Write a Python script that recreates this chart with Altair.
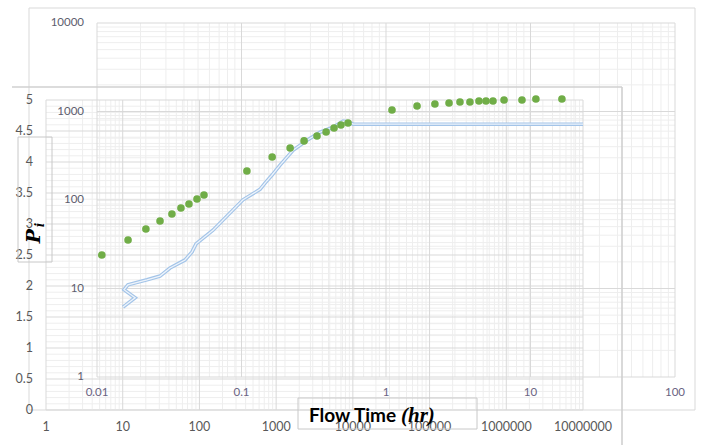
import altair as alt
import pandas as pd

# ---------------- data ----------------
# Back chart (log-log): Flow Time (hr) vs P_i
A_X_TICKS = [0.01, 0.1, 1, 10, 100]
A_X_LABELS = ["0.01", "0.1", "1", "10", "100"]
A_Y_TICKS = [1, 10, 100, 1000, 10000]
A_Y_LABELS = ["1", "10", "100", "1000", "10000"]
MINOR_MULTS = [2, 3, 4, 5, 6, 7, 8, 9]

# Front chart (log x, linear y)
B_X_TICKS = [1, 10, 100, 1000, 10000, 100000, 1000000, 10000000]
B_X_LABELS = ["1", "10", "100", "1000", "10000", "100000", "1000000", "10000000"]
B_Y_TICKS = [0, 0.5, 1, 1.5, 2, 2.5, 3, 3.5, 4, 4.5, 5]
B_Y_LABELS = ["0", "0.5", "1", "1.5", "2", "2.5", "3", "3.5", "4", "4.5", "5"]
B_Y_MINOR = [0.1, 0.2, 0.3, 0.4, 0.6, 0.7, 0.8, 0.9, 1.1, 1.2, 1.3, 1.4, 1.6, 1.7, 1.8, 1.9,
             2.1, 2.2, 2.3, 2.4, 2.6, 2.7, 2.8, 2.9, 3.1, 3.2, 3.3, 3.4, 3.6, 3.7, 3.8, 3.9,
             4.1, 4.2, 4.3, 4.4, 4.6, 4.7, 4.8, 4.9]

# green points (back chart coordinates)
DOT_TIME = [0.0108, 0.0164, 0.0218, 0.0273, 0.033, 0.0381, 0.0433, 0.0492, 0.055,
            0.109, 0.163, 0.217, 0.271, 0.333, 0.385, 0.437, 0.488, 0.546,
            1.10, 1.64, 2.18, 2.73, 3.25, 3.81, 4.40, 4.92, 5.50, 6.56, 8.73, 10.9, 16.5]
DOT_PI = [23.9, 35.3, 47.0, 57.9, 69.5, 81.2, 90.1, 102.6, 113.8,
          212.8, 306, 387, 465, 529, 587, 652, 704, 741,
          1040, 1154, 1216, 1249, 1280, 1280, 1314, 1314, 1314, 1350, 1350, 1384, 1384]

# blue curve (front chart coordinates)
LINE_X = [10.1, 14.5, 10.4, 11.7, 20.7, 30.6, 41.4, 64.9, 80.1, 90.3, 150, 370, 616, 716,
          885, 1125, 1661, 2528, 3736, 5516, 7449, 8650, 10070, 10000000]
LINE_Y = [1.66, 1.81, 1.94, 2.02, 2.10, 2.16, 2.29, 2.42, 2.55, 2.68, 2.90, 3.39, 3.56, 3.66,
          3.79, 3.95, 4.19, 4.35, 4.48, 4.56, 4.66, 4.65, 4.61, 4.61]

# ---------------- scales ----------------
ax = alt.Scale(type="log", domain=[0.01, 100], range=[97, 675], nice=False)
ay = alt.Scale(type="log", domain=[1, 10000], range=[377, 23], nice=False)
bx = alt.Scale(type="log", domain=[1, 10000000], range=[46, 583], nice=False)
by = alt.Scale(type="linear", domain=[0, 5], range=[410, 100], nice=False, zero=False)

MAJ = "#d9d9d9"
MIN = "#eeeeee"


def minors(ticks):
    return [t * m for t in ticks[:-1] for m in MINOR_MULTS]


def vgrid(values, xs, ys, y0, y1, color):
    return alt.Chart(pd.DataFrame({"v": values})).mark_rule(color=color, strokeWidth=1).encode(
        x=alt.X("v:Q", scale=xs, axis=None),
        y=alt.YDatum(y0, scale=ys, axis=None),
        y2=alt.Y2Datum(y1),
    )


def hgrid(values, xs, ys, x0, x1, color):
    return alt.Chart(pd.DataFrame({"v": values})).mark_rule(color=color, strokeWidth=1).encode(
        y=alt.Y("v:Q", scale=ys, axis=None),
        x=alt.XDatum(x0, scale=xs, axis=None),
        x2=alt.X2Datum(x1),
    )


def xlabels(values, labels, xs, ys, y0, dy, color, size):
    return alt.Chart(pd.DataFrame({"v": values, "t": labels})).mark_text(
        dy=dy, align="center", baseline="middle", font="Lato", fontSize=size, color=color
    ).encode(
        x=alt.X("v:Q", scale=xs, axis=None),
        y=alt.YDatum(y0, scale=ys, axis=None),
        text="t:N",
    )


def ylabels(values, labels, xs, ys, x0, dx, color, size):
    return alt.Chart(pd.DataFrame({"v": values, "t": labels})).mark_text(
        dx=dx, align="right", baseline="middle", font="Lato", fontSize=size, color=color
    ).encode(
        y=alt.Y("v:Q", scale=ys, axis=None),
        x=alt.XDatum(x0, scale=xs, axis=None),
        text="t:N",
    )


one = pd.DataFrame({"k": [0]})

frameA = alt.Chart(one).mark_rect(fill="transparent", stroke="#d9d9d9", strokeWidth=1).encode(
    x=alt.value(29), x2=alt.value(695), y=alt.value(8), y2=alt.value(410)
)
frameB_top = alt.Chart(one).mark_rule(color="#d0d0d0", strokeWidth=1.6).encode(
    x=alt.value(12), x2=alt.value(622), y=alt.value(87)
)
frameB_right = alt.Chart(one).mark_rule(color="#d0d0d0", strokeWidth=1.6).encode(
    x=alt.value(622), y=alt.value(87), y2=alt.value(445)
)

layers = [
    frameA,
    vgrid(minors(A_X_TICKS), ax, ay, 1, 10000, MIN),
    hgrid(minors(A_Y_TICKS), ax, ay, 0.01, 100, MIN),
    vgrid(minors(B_X_TICKS), bx, by, 0, 5, MIN),
    hgrid(B_Y_MINOR, bx, by, 1, 10000000, MIN),
    vgrid(A_X_TICKS, ax, ay, 1, 10000, MAJ),
    hgrid(A_Y_TICKS, ax, ay, 0.01, 100, MAJ),
    vgrid(B_X_TICKS, bx, by, 0, 5, MAJ),
    hgrid(B_Y_TICKS, bx, by, 1, 10000000, MAJ),
    frameB_top,
    frameB_right,
    xlabels(A_X_TICKS, A_X_LABELS, ax, ay, 1, 16, "#6a6482", 11.5),
    ylabels(A_Y_TICKS, A_Y_LABELS, ax, ay, 0.01, -13, "#5d5d6e", 11.5),
    xlabels(B_X_TICKS, B_X_LABELS, bx, by, 0, 17, "#595959", 12.5),
    ylabels(B_Y_TICKS, B_Y_LABELS, bx, by, 1, -13, "#595959", 12.5),
]

line_df = pd.DataFrame({"x": LINE_X, "y": LINE_Y, "i": list(range(len(LINE_X)))})
line_outer = alt.Chart(line_df).mark_line(color="#a3c4e8", strokeWidth=3.6).encode(
    x=alt.X("x:Q", scale=bx, axis=None),
    y=alt.Y("y:Q", scale=by, axis=None),
    order="i:Q",
)
line_inner = alt.Chart(line_df).mark_line(color="#eef4fb", strokeWidth=1.3).encode(
    x=alt.X("x:Q", scale=bx, axis=None),
    y=alt.Y("y:Q", scale=by, axis=None),
    order="i:Q",
)
dots = alt.Chart(pd.DataFrame({"t": DOT_TIME, "p": DOT_PI})).mark_circle(
    size=58, color="#70ad47", opacity=1
).encode(
    x=alt.X("t:Q", scale=ax, axis=None),
    y=alt.Y("p:Q", scale=ay, axis=None),
)

pi_box = alt.Chart(one).mark_rect(fill="transparent", stroke="#c8c8c8", strokeWidth=1).encode(
    x=alt.value(18), x2=alt.value(52), y=alt.value(137), y2=alt.value(262)
)
pi_P = alt.Chart(one).mark_text(
    text="P", font="DejaVu Serif", fontStyle="italic", fontWeight="bold", fontSize=19,
    angle=270, align="center", baseline="middle", color="#000000"
).encode(x=alt.value(34), y=alt.value(236))
pi_i = alt.Chart(one).mark_text(
    text="i", font="DejaVu Serif", fontStyle="italic", fontWeight="bold", fontSize=12,
    angle=270, align="center", baseline="middle", color="#000000"
).encode(x=alt.value(40), y=alt.value(225))

ft_box = alt.Chart(one).mark_rect(fill="transparent", stroke="#c8c8c8", strokeWidth=1).encode(
    x=alt.value(298), x2=alt.value(477), y=alt.value(398), y2=alt.value(429)
)
ft_text = alt.Chart(one).mark_text(
    text="Flow Time", font="Lato", fontWeight="bold", fontSize=19, align="left",
    baseline="middle", color="#000000"
).encode(x=alt.value(309), y=alt.value(416))
ft_unit = alt.Chart(one).mark_text(
    text="(hr)", font="Liberation Serif", fontStyle="italic", fontWeight="bold", fontSize=21,
    align="left", baseline="middle", color="#000000"
).encode(x=alt.value(401), y=alt.value(416))

layers += [line_outer, line_inner, dots, pi_box, pi_P, pi_i, ft_box, ft_text, ft_unit]

chart = alt.layer(*layers).resolve_scale(x="independent", y="independent").properties(
    width=703, height=445, padding=0, autosize="none", background="white"
).configure_view(stroke=None)

chart.save("out.html", embed_options={"renderer": "svg", "actions": False})
